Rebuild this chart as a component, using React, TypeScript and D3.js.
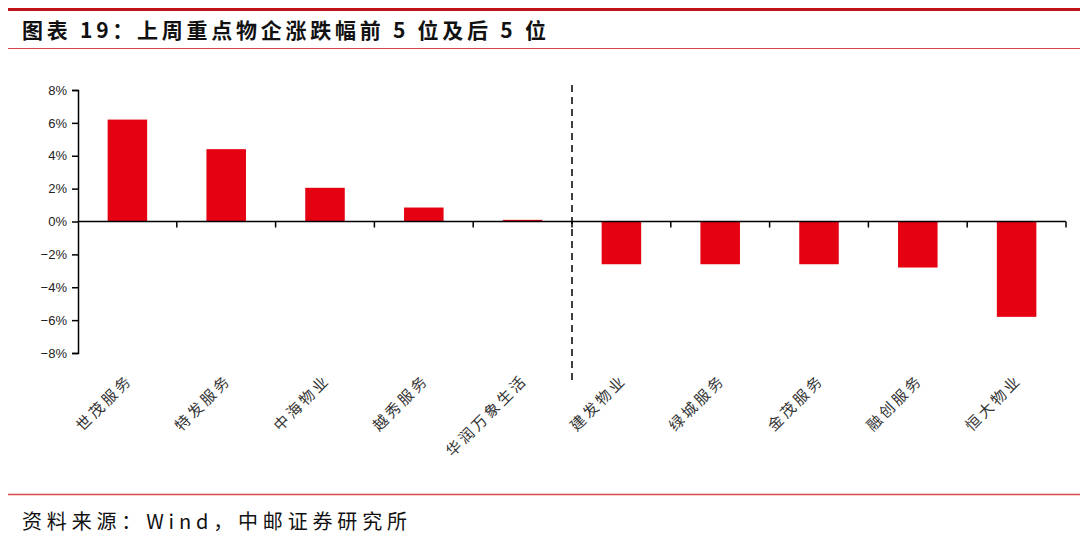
import React, {useEffect, useRef} from "react";
import * as d3 from "d3";

// data
const companies = ["世茂服务", "特发服务", "中海物业", "越秀服务", "华润万象生活", "建发物业", "绿城服务", "金茂服务", "融创服务", "恒大物业"];
const changes = [6.2, 4.4, 2.05, 0.85, 0.1, -2.6, -2.6, -2.6, -2.8, -5.8];
const yTicks = [-8, -6, -4, -2, 0, 2, 4, 6, 8];

const title = "图表 19：上周重点物企涨跌幅前 5 位及后 5 位";
const source = "资料来源：Wind，中邮证券研究所";

const W = 1080;
const H = 548;
const left = 78;
const right = 1066;
const top = 90;
const bottom = 353;
const barColor = "#E50012";

const App = () => {
    const svgRef = useRef(null);

    useEffect(() => {
        const svg = d3.select(svgRef.current);
        svg.selectAll("*").remove();

        // header
        svg.append("line").attr("x1", 8).attr("x2", W).attr("y1", 9.5).attr("y2", 9.5)
            .attr("stroke", "#C0141C").attr("stroke-width", 3);
        svg.append("text").attr("x", 22).attr("y", 38).text(title)
            .attr("font-family", "'Noto Sans CJK SC'").attr("font-weight", "bold")
            .attr("font-size", 21).attr("fill", "#111")
            .attr("textLength", 524).attr("lengthAdjust", "spacing");
        svg.append("line").attr("x1", 8).attr("x2", W).attr("y1", 48.5).attr("y2", 48.5)
            .attr("stroke", "#D9474B").attr("stroke-width", 1.2);

        // footer
        svg.append("line").attr("x1", 8).attr("x2", W).attr("y1", 494.5).attr("y2", 494.5)
            .attr("stroke", "#D9474B").attr("stroke-width", 1.5);
        svg.append("text").attr("x", 22).attr("y", 529).text(source)
            .attr("font-family", "'Noto Sans CJK SC'").attr("font-size", 20).attr("fill", "#111")
            .attr("textLength", 385).attr("lengthAdjust", "spacing");

        const x = d3.scaleBand().domain(companies).range([left, right]).paddingInner(0.6).paddingOuter(0.3);
        const y = d3.scaleLinear().domain([-8, 8]).range([bottom, top]);
        const step = x.step();

        // bars
        svg.append("g").selectAll("rect").data(changes).join("rect")
            .attr("x", (d, i) => x(companies[i]) as number)
            .attr("width", x.bandwidth())
            .attr("y", d => y(Math.max(0, d)))
            .attr("height", d => Math.abs(y(d) - y(0)))
            .attr("fill", barColor);

        // y axis
        const yAxis = d3.axisLeft(y).tickValues(yTicks).tickSize(6).tickPadding(5)
            .tickFormat(d => `${(d as number) < 0 ? "−" : ""}${Math.abs(d as number)}%`);
        const gy = svg.append("g").attr("transform", `translate(${left},0)`).call(yAxis);
        gy.select(".domain").attr("stroke", "#000").attr("stroke-width", 1.5);
        gy.selectAll(".tick line").attr("stroke", "#000").attr("stroke-width", 1.5);
        gy.selectAll(".tick text").attr("font-family", "'Liberation Sans', Arial").attr("font-size", 13).attr("fill", "#222");

        // zero line with boundary ticks
        const y0 = y(0);
        svg.append("line").attr("x1", left).attr("x2", right).attr("y1", y0).attr("y2", y0)
            .attr("stroke", "#000").attr("stroke-width", 1.5);
        const bounds = d3.range(1, companies.length + 1).map(k => left + k * step);
        svg.append("g").selectAll("line").data(bounds).join("line")
            .attr("x1", d => d).attr("x2", d => d).attr("y1", y0).attr("y2", y0 + 6)
            .attr("stroke", "#000").attr("stroke-width", 1.5);

        // divider between top 5 and bottom 5
        const divX = left + 5 * step;
        svg.append("line").attr("x1", divX).attr("x2", divX).attr("y1", 85).attr("y2", 380)
            .attr("stroke", "#000").attr("stroke-width", 1.5).attr("stroke-dasharray", "7,5");

        // category labels
        svg.append("g").selectAll("text").data(companies).join("text")
            .attr("transform", d => `translate(${(x(d) as number) + x.bandwidth() / 2 + 6},381) rotate(-45)`)
            .attr("text-anchor", "end")
            .attr("font-family", "'Noto Sans CJK SC'")
            .attr("font-size", 15)
            .attr("letter-spacing", 3)
            .attr("fill", "#333")
            .text(d => d);
    }, []);

    return (
        <div style={{position: "absolute", left: 0, top: 0}}>
            <svg ref={svgRef} width={W} height={H} viewBox={`0 0 ${W} ${H}`} style={{display: "block", background: "#fff"}}/>
        </div>
    );
};

export default App;
